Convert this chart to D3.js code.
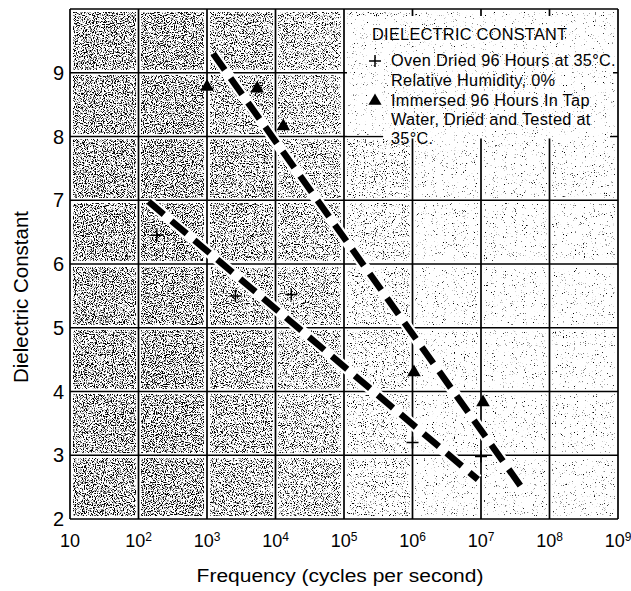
<!DOCTYPE html>
<html>
<head>
<meta charset="utf-8">
<script src="https://cdn.jsdelivr.net/npm/d3@7"></script>
<style>
  body { margin: 0; background: #fff; }
  svg { display: block; font-family: "Liberation Sans", Arial, sans-serif; }
</style>
</head>
<body>
<div id="chart"></div>
<script>
// decades on the frequency axis
const xTickExp = [1, 2, 3, 4, 5, 6, 7, 8, 9];
const yTicks = [2, 3, 4, 5, 6, 7, 8, 9];

// oven dried 96 h at 35°C (+)
const ovenFreq = [185, 2600, 17000, 1.0e6, 1.0e7];
const ovenDc = [6.45, 5.5, 5.52, 3.2, 2.98];

// immersed 96 h in tap water (triangles)
const immFreq = [1000, 5400, 13000, 1.05e6, 1.07e7];
const immDc = [8.78, 8.75, 8.16, 4.3, 3.83];

// dashed trend lines (end points)
const ovenTrendFreq = [140, 9.0e6];
const ovenTrendDc = [6.98, 2.62];
const immTrendFreq = [1230, 4.2e7];
const immTrendDc = [9.3, 2.45];

// stipple darkness per decade column (noise threshold, lower = darker)
const columnThreshold = [0.49, 0.49, 0.51, 0.53, 0.60, 0.66, 0.67, 0.67];

const legendLines = [
  "DIELECTRIC CONSTANT",
  "Oven Dried 96 Hours at 35°C.",
  "Relative Humidity, 0%",
  "Immersed 96 Hours In Tap",
  "Water, Dried and Tested at",
  "35°C."
];

const W = 631, H = 591;
const margin = {left: 70, right: 13, top: 9, bottom: 72};

const svg = d3.select("#chart").append("svg").attr("width", W).attr("height", H);

const x = d3.scaleLog().domain([10, 1e9]).range([margin.left, W - margin.right]);
const y = d3.scaleLinear().domain([2, 10]).range([H - margin.bottom, margin.top]);

const defs = svg.append("defs");
function stipple(id, t, seed) {
  const s = 7;
  const f = defs.append("filter").attr("id", id)
    .attr("x", 0).attr("y", 0).attr("width", 1).attr("height", 1);
  f.append("feTurbulence").attr("type", "fractalNoise")
    .attr("baseFrequency", 0.9).attr("numOctaves", 2).attr("seed", seed);
  f.append("feColorMatrix").attr("type", "matrix")
    .attr("values", `0 0 0 0 0  0 0 0 0 0  0 0 0 0 0  ${s} 0 0 0 ${-s * t}`);
}
columnThreshold.forEach((t, i) => stipple("stip" + i, t, 4 + i));
stipple("stipLegend", 0.685, 21);

// cells
const cells = [];
for (let c = 0; c < 8; c++) {
  for (let r = 0; r < 8; r++) {
    cells.push({c: c, r: r});
  }
}
const inset = 3;
svg.append("g").attr("class", "cells")
  .selectAll("rect")
  .data(cells)
  .join("rect")
  .attr("x", d => x(Math.pow(10, d.c + 1)) + inset)
  .attr("y", d => y(d.r + 3) + inset)
  .attr("width", d => x(Math.pow(10, d.c + 2)) - x(Math.pow(10, d.c + 1)) - 2 * inset)
  .attr("height", d => y(d.r + 2) - y(d.r + 3) - 2 * inset)
  .attr("fill", "#000")
  .attr("filter", d => `url(#stip${d.c})`);

// grid
const grid = svg.append("g").attr("class", "grid");
grid.selectAll(".vline")
  .data(xTickExp)
  .join("line")
  .attr("class", "vline")
  .attr("x1", d => x(Math.pow(10, d))).attr("x2", d => x(Math.pow(10, d)))
  .attr("y1", y(10)).attr("y2", y(2))
  .attr("stroke", "#000").attr("stroke-width", 1.7);
grid.selectAll(".hline")
  .data(d3.range(2, 11))
  .join("line")
  .attr("class", "hline")
  .attr("x1", x(10)).attr("x2", x(1e9))
  .attr("y1", d => y(d)).attr("y2", d => y(d))
  .attr("stroke", "#000").attr("stroke-width", 1.7);

// legend box (covers the grid in the upper right)
const lg = svg.append("g").attr("class", "legend");
const lx0 = x(1e5) + 3, lx1 = x(1e9) - 5;
const ly0 = y(10) + 7, ly1 = y(8) - 1;
lg.append("rect").attr("x", lx0).attr("y", ly0)
  .attr("width", lx1 - lx0).attr("height", ly1 - ly0).attr("fill", "#fff");
lg.append("rect").attr("x", lx0 + 36).attr("y", ly1 - 4)
  .attr("width", lx1 - lx0 - 39).attr("height", 7).attr("fill", "#fff");
lg.append("rect").attr("x", lx0).attr("y", ly0)
  .attr("width", lx1 - lx0).attr("height", ly1 - ly0 + 2)
  .attr("fill", "#000").attr("filter", "url(#stipLegend)");

const baselines = [40, 66, 86, 106, 125, 144];
lg.selectAll("text")
  .data(legendLines)
  .join("text")
  .attr("x", (d, i) => i === 0 ? 372 : 391)
  .attr("y", (d, i) => baselines[i])
  .attr("font-size", 16.3)
  .attr("letter-spacing", 0.3)
  .attr("fill", "#000")
  .text(d => d);

const plusPath = s => `M${-s},0H${s}M0,${-s}V${s}`;
lg.append("path").attr("d", plusPath(6))
  .attr("transform", "translate(375,61)")
  .attr("stroke", "#000").attr("stroke-width", 1.5).attr("fill", "none");
lg.append("path").attr("d", d3.symbol(d3.symbolTriangle, 75)())
  .attr("transform", "translate(375,101)")
  .attr("fill", "#000");

// trend lines
const line = d3.line().x(d => x(d[0])).y(d => y(d[1]));
const trends = [
  d3.zip(ovenTrendFreq, ovenTrendDc),
  d3.zip(immTrendFreq, immTrendDc)
];
const tg = svg.append("g").attr("class", "trends");
tg.selectAll(".halo")
  .data(trends)
  .join("path")
  .attr("class", "halo")
  .attr("d", line)
  .attr("stroke", "#fff").attr("stroke-width", 11).attr("fill", "none");
tg.selectAll(".dash")
  .data(trends)
  .join("path")
  .attr("class", "dash")
  .attr("d", line)
  .attr("stroke", "#000").attr("stroke-width", 6.5)
  .attr("stroke-dasharray", "20,10").attr("fill", "none");

// points
const pg = svg.append("g").attr("class", "points");
pg.selectAll(".oven")
  .data(d3.zip(ovenFreq, ovenDc))
  .join("path")
  .attr("class", "oven")
  .attr("d", plusPath(6))
  .attr("transform", d => `translate(${x(d[0])},${y(d[1])})`)
  .attr("stroke", "#000").attr("stroke-width", 1.5).attr("fill", "none");
pg.selectAll(".imm")
  .data(d3.zip(immFreq, immDc))
  .join("path")
  .attr("class", "imm")
  .attr("d", d3.symbol(d3.symbolTriangle, 80)())
  .attr("transform", d => `translate(${x(d[0])},${y(d[1])})`)
  .attr("fill", "#000");

// axes labels
svg.append("g").attr("class", "x-labels")
  .selectAll("text")
  .data(xTickExp)
  .join("text")
  .attr("x", d => x(Math.pow(10, d)))
  .attr("y", 547)
  .attr("text-anchor", "middle")
  .attr("font-size", 18)
  .each(function(d) {
    const t = d3.select(this);
    t.append("tspan").text("10");
    if (d > 1) {
      t.append("tspan").attr("font-size", 12).attr("dy", -6).text(d);
    }
  });

svg.append("g").attr("class", "y-labels")
  .selectAll("text")
  .data(yTicks)
  .join("text")
  .attr("x", 64)
  .attr("y", d => y(d) + 7)
  .attr("text-anchor", "end")
  .attr("font-size", 20)
  .text(d => d);

svg.append("text")
  .attr("transform", "translate(340,582) scale(1,0.85)")
  .attr("text-anchor", "middle")
  .attr("font-size", 21)
  .text("Frequency (cycles per second)");

svg.append("text")
  .attr("transform", "translate(28,297) rotate(-90)")
  .attr("text-anchor", "middle")
  .attr("font-size", 20.5)
  .text("Dielectric Constant");
</script>
</body>
</html>
